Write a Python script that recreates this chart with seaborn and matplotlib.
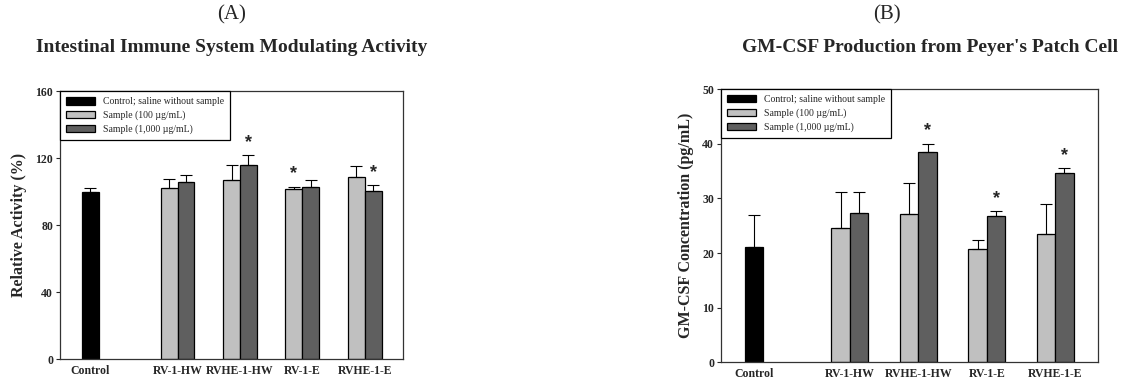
import numpy as np
import pandas as pd
import matplotlib
matplotlib.use("Agg")
import matplotlib.pyplot as plt
import seaborn as sns

# data
groups = ["Control", "RV-1-HW", "RVHE-1-HW", "RV-1-E", "RVHE-1-E"]
treatments = ["Control; saline without sample", "Sample (100 \u00b5g/mL)", "Sample (1,000 \u00b5g/mL)"]

# (A) relative activity (%)
a_ctrl, a_ctrl_err = 100.0, 2.5
a_low = [102.3, 107.2, 101.6, 108.6]
a_low_err = [5.5, 9.0, 1.4, 7.0]
a_high = [105.6, 116.2, 103.0, 100.5]
a_high_err = [4.2, 5.8, 3.8, 3.3]
a_low_star = [False, False, True, False]
a_high_star = [False, True, False, True]

# (B) GM-CSF concentration (pg/mL)
b_ctrl, b_ctrl_err = 21.1, 5.8
b_low = [24.5, 27.2, 20.8, 23.5]
b_low_err = [6.7, 5.6, 1.6, 5.4]
b_high = [27.4, 38.4, 26.8, 34.7]
b_high_err = [3.8, 1.6, 0.9, 0.9]
b_low_star = [False, False, False, False]
b_high_star = [False, True, True, True]

colors = ["#000000", "#c0c0c0", "#5f5f5f"]

sns.set_style("white")
plt.rcParams["font.family"] = ["Liberation Serif", "DejaVu Serif"]

bar_w = 0.27
centers = [0.0] + [1.4 + i for i in range(4)]


def build_df(ctrl, ctrl_err, low, low_err, high, high_err, low_star, high_star):
    rows = [(centers[0], ctrl, ctrl_err, treatments[0], False)]
    for i in range(4):
        c = centers[i + 1]
        rows.append((c - bar_w / 2, low[i], low_err[i], treatments[1], low_star[i]))
        rows.append((c + bar_w / 2, high[i], high_err[i], treatments[2], high_star[i]))
    return pd.DataFrame(rows, columns=["pos", "value", "err", "treat", "star"])


def draw(ax, df, ymax, ystep, ylabel):
    sns.barplot(data=df, x="pos", y="value", hue="treat", hue_order=treatments,
                palette=colors, native_scale=True, dodge=False, width=1.0,
                errorbar=None, edgecolor="black", linewidth=0.9, ax=ax)
    ax.errorbar(df["pos"], df["value"], yerr=[np.zeros(len(df)), df["err"]],
                fmt="none", ecolor="black", elinewidth=0.8, capsize=4, capthick=0.8)
    for _, r in df[df["star"]].iterrows():
        ax.annotate("*", (r["pos"], r["value"] + r["err"]), xytext=(0, 3),
                    textcoords="offset points", ha="center", va="bottom",
                    fontsize=13, fontweight="bold", family="Liberation Sans")
    ax.set_xlim(-0.485, 5.02)
    ax.set_ylim(0, ymax)
    ax.set_yticks(np.arange(0, ymax + 1, ystep))
    ax.set_xticks(centers)
    ax.set_xticklabels(groups, fontsize=8.5, fontweight="bold")
    ax.tick_params(axis="y", labelsize=8.5, length=3, width=0.8, direction="out", left=True, pad=2)
    ax.tick_params(axis="x", length=0, pad=4)
    for t in ax.get_yticklabels():
        t.set_fontweight("bold")
    ax.set_xlabel("")
    ax.set_ylabel(ylabel, fontsize=11.5, fontweight="bold", labelpad=6)
    for s in ax.spines.values():
        s.set_color("#333333")
        s.set_linewidth(0.9)
    handles, labels = ax.get_legend_handles_labels()
    leg = ax.legend(handles, labels, loc="upper left", borderaxespad=0, fontsize=7,
                    fancybox=False, edgecolor="black", framealpha=1,
                    handlelength=3.0, handleheight=0.8, labelspacing=0.45,
                    borderpad=0.6, handletextpad=0.8)
    leg.get_frame().set_linewidth(0.9)


fig = plt.figure(figsize=(11.22, 3.84), dpi=100)
ax1 = fig.add_axes([0.0535, 0.065, 0.306, 0.697])
ax2 = fig.add_axes([0.6426, 0.0565, 0.3357, 0.7115])

df_a = build_df(a_ctrl, a_ctrl_err, a_low, a_low_err, a_high, a_high_err, a_low_star, a_high_star)
df_b = build_df(b_ctrl, b_ctrl_err, b_low, b_low_err, b_high, b_high_err, b_low_star, b_high_star)

draw(ax1, df_a, 160, 40, "Relative Activity (%)")
draw(ax2, df_b, 50, 10, "GM-CSF Concentration (pg/mL)")

fig.text(232 / 1122, 1 - 15 / 384, "(A)", ha="center", va="center", fontsize=15)
fig.text(232 / 1122, 1 - 47 / 384, "Intestinal Immune System Modulating Activity",
         ha="center", va="center", fontsize=14, fontweight="bold")
fig.text(887 / 1122, 1 - 15 / 384, "(B)", ha="center", va="center", fontsize=15)
fig.text(1118 / 1122, 1 - 48 / 384, "GM-CSF Production from Peyer's Patch Cell",
         ha="right", va="center", fontsize=14, fontweight="bold")

fig.savefig("out.png", dpi=100)
